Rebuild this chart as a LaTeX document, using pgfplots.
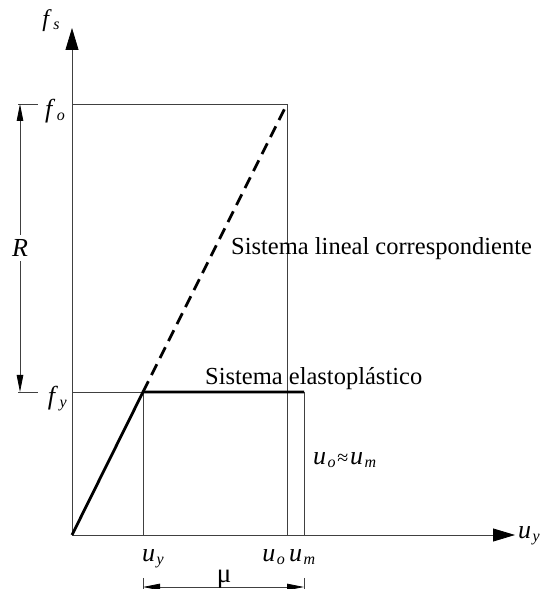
\documentclass[border=0pt]{standalone}
\usepackage{pgfplots}
\pgfplotsset{compat=1.18}
\usetikzlibrary{arrows.meta}
\usepackage{fontspec}
\setmainfont{Liberation Serif}

% italic symbol with a small lowered subscript
\newcommand{\sym}[3][26]{{\fontsize{#1}{#1}\selectfont\textit{#2}\kern1.5pt\raisebox{-0.25ex}{\fontsize{16}{16}\selectfont\textit{#3}}}}

\tikzset{
  guide/.style={color=black!75, line width=0.8pt},
  axisarrow/.style={-{Triangle[length=22pt,width=13pt,color=black]}},
  dimarrow/.style={{Triangle[length=17pt,width=6.5pt,color=black]}-{Triangle[length=17pt,width=6.5pt,color=black]}},
  txt/.style={font=\fontsize{24.5}{28}\selectfont, inner sep=0pt},
}

\begin{document}
\begin{tikzpicture}
\begin{axis}[
  x=1pt, y=1pt,
  xmin=-72, xmax=470, ymin=-54, ymax=535,
  hide axis, clip=false,
]
\coordinate (ll) at (axis cs:-72,-54);
\coordinate (ur) at (axis cs:470,535);

% axes
\addplot[guide, axisarrow] coordinates {(0,0) (443,0)};
\addplot[guide, axisarrow] coordinates {(0,0) (0,507)};

% reference lines at f_o, f_y and the displacements
\addplot[guide] coordinates {(0,431) (215,431) (215,0)};
\addplot[guide] coordinates {(0,143) (71,143) (71,0)};
\addplot[guide] coordinates {(232,143) (232,0)};

% elastoplastic system
\addplot[black, line width=2.8pt, line join=miter] coordinates {(0,0) (71,143) (232,143)};
% corresponding linear system
\addplot[black, line width=2.8pt, dash pattern=on 12pt off 7pt] coordinates {(71,143) (215,431)};

% R dimension
\addplot[guide] coordinates {(-54,431) (-34,431)};
\addplot[guide] coordinates {(-54,143) (-34,143)};
\addplot[guide, dimarrow] coordinates {(-52,431) (-52,143)};
\node[txt, font=\fontsize{26}{28}\selectfont, fill=white, inner ysep=4pt] at (axis cs:-52,287) {\textit{R}};

% mu dimension
\addplot[guide] coordinates {(71,-43) (71,-54)};
\addplot[guide] coordinates {(232,-43) (232,-54)};
\addplot[guide, dimarrow] coordinates {(71,-52) (232,-52)};
\node[txt, font=\fontsize{27}{28}\selectfont] at (axis cs:152,-44) {μ};

% axis and level labels
\node[inner sep=0pt] at (axis cs:-21,514) {\sym[24]{f}{s}};
\node[inner sep=0pt, anchor=east] at (axis cs:-7,424) {\sym{f}{o}};
\node[inner sep=0pt, anchor=east] at (axis cs:-5,136) {\sym{f}{y}};
\node[inner sep=0pt, anchor=west] at (axis cs:446,-1) {\sym{u}{y}};
\node[inner sep=0pt, anchor=base west] at (axis cs:70,-27) {\sym{u}{y}};
\node[inner sep=0pt, anchor=base east] at (axis cs:213,-27) {\sym{u}{o}};
\node[inner sep=0pt, anchor=base west] at (axis cs:217,-27) {\sym{u}{m}};
\node[inner sep=0pt, anchor=base west] at (axis cs:241,70) {\sym{u}{o}\,{\fontsize{20}{20}\selectfont≈}\,\sym{u}{m}};

% curve labels
\node[txt, anchor=base west] at (axis cs:159,280) {Sistema lineal correspondiente};
\node[txt, anchor=base west] at (axis cs:133,150) {Sistema elastoplástico};
\end{axis}
\pgfresetboundingbox
\path[use as bounding box] (ll) rectangle (ur);
\end{tikzpicture}
\end{document}
